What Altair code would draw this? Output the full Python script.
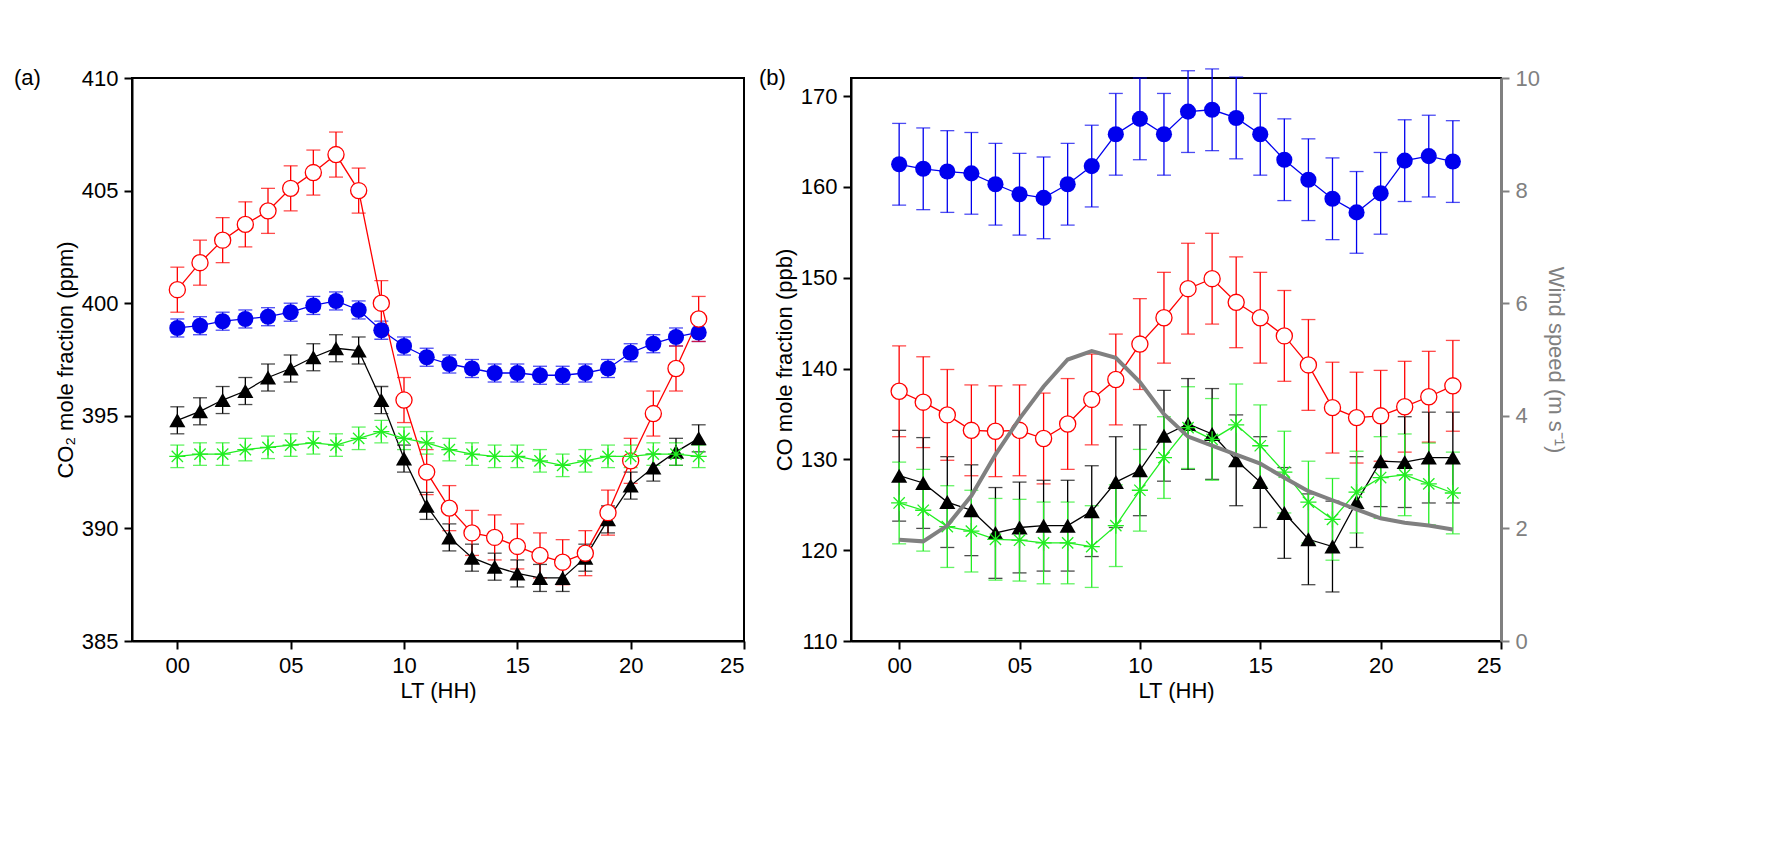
import pandas as pd
import altair as alt

hours = list(range(24))
seasons = ['spring', 'summer', 'autumn', 'winter']
colors = ['#0000ee', '#ff0000', '#000000', '#22ee22']

# (a) CO2, ppm
co2 = {
    'spring': [398.9, 399.0, 399.2, 399.3, 399.4, 399.6, 399.9, 400.1, 399.7, 398.8, 398.1, 397.6,
               397.3, 397.1, 396.9, 396.9, 396.8, 396.8, 396.9, 397.1, 397.8, 398.2, 398.5, 398.7],
    'summer': [400.6, 401.8, 402.8, 403.5, 404.1, 405.1, 405.8, 406.6, 405.0, 400.0, 395.7, 392.5,
               390.9, 389.8, 389.6, 389.2, 388.8, 388.5, 388.9, 390.7, 393.0, 395.1, 397.1, 399.3],
    'autumn': [394.8, 395.2, 395.7, 396.1, 396.7, 397.1, 397.6, 398.0, 397.9, 395.7, 393.1, 391.0,
               389.6, 388.7, 388.3, 388.0, 387.8, 387.8, 388.7, 390.4, 391.9, 392.7, 393.4, 394.0],
    'winter': [393.2, 393.3, 393.3, 393.5, 393.6, 393.7, 393.8, 393.7, 394.0, 394.3, 394.0, 393.8,
               393.5, 393.3, 393.2, 393.2, 393.0, 392.8, 393.0, 393.2, 393.2, 393.3, 393.3, 393.2],
}
co2_err = {'spring': 0.4, 'summer': 1.0, 'autumn': 0.6, 'winter': 0.5}

# (b) CO, ppb
co = {
    'spring': [162.5, 162.0, 161.7, 161.5, 160.3, 159.2, 158.8, 160.3, 162.3, 165.8, 167.5, 165.8,
               168.3, 168.5, 167.6, 165.8, 163.0, 160.8, 158.7, 157.2, 159.3, 162.9, 163.4, 162.8],
    'summer': [137.5, 136.3, 134.9, 133.2, 133.1, 133.2, 132.3, 133.9, 136.6, 138.8, 142.7, 145.6,
               148.8, 149.9, 147.3, 145.6, 143.6, 140.4, 135.7, 134.6, 134.8, 135.8, 136.9, 138.1],
    'autumn': [128.2, 127.4, 125.3, 124.4, 121.9, 122.5, 122.7, 122.7, 124.3, 127.5, 128.8, 132.6,
               133.9, 132.8, 129.9, 127.5, 124.1, 121.2, 120.4, 125.3, 129.8, 129.7, 130.2, 130.2],
    'winter': [125.2, 124.4, 122.6, 122.1, 121.2, 121.1, 120.8, 120.8, 120.4, 122.7, 126.6, 130.2,
               133.5, 132.2, 133.8, 131.5, 128.6, 125.3, 123.4, 126.4, 128.0, 128.3, 127.3, 126.3],
}
co_err = {'spring': 4.5, 'summer': 5.0, 'autumn': 5.0, 'winter': 4.5}

wind = [1.80, 1.77, 2.05, 2.58, 3.31, 3.95, 4.52, 5.00, 5.15, 5.03, 4.60, 4.03,
        3.63, 3.47, 3.31, 3.15, 2.90, 2.66, 2.50, 2.34, 2.18, 2.10, 2.05, 1.98]

FONT = 'Liberation Sans'


def frame(values, errs):
    rows = []
    for s in seasons:
        for h, v in zip(hours, values[s]):
            rows.append({'hour': h, 'season': s, 'v': v, 'lo': v - errs[s], 'hi': v + errs[s]})
    return pd.DataFrame(rows)


xaxis = alt.X('hour:Q', title='LT (HH)', scale=alt.Scale(domain=[-2, 25], nice=False),
              axis=alt.Axis(values=[0, 5, 10, 15, 20, 25], grid=False, tickSize=8,
                            labelExpr="datum.value < 10 ? '0' + datum.value : datum.value"))


def color(show):
    leg = alt.Legend(title=None, orient='none', legendX=345, legendY=-62,
                     direction='horizontal', strokeColor='black', padding=6,
                     labelFontSize=22, symbolSize=220, columnPadding=14) if show else None
    return alt.Color('season:N', scale=alt.Scale(domain=seasons, range=colors), legend=leg)


shape = alt.Shape('season:N', scale=alt.Scale(
    domain=seasons,
    range=['circle', 'circle', 'triangle-up',
           'M-1,0L1,0M0,-1L0,1M-0.7,-0.7L0.7,0.7M-0.7,0.7L0.7,-0.7']), legend=None)


def panel(df, lo, hi, title, width, show):
    base = alt.Chart(df)
    sc = alt.Scale(domain=[lo, hi], nice=False, zero=False)
    y = alt.Y('v:Q', title=title, scale=sc,
              axis=alt.Axis(grid=False, tickCount=5 if hi - lo < 30 else 6, tickSize=8))
    err = base.mark_errorbar(ticks=alt.MarkConfig(size=14), thickness=1.3).encode(
        x=xaxis, y=alt.Y('lo:Q', scale=sc, title=title), y2='hi:Q', color=color(False))
    line = base.mark_line(strokeWidth=1.3).encode(x=xaxis, y=y, color=color(show))
    filled = base.transform_filter("datum.season == 'spring' || datum.season == 'autumn'").mark_point(
        filled=True, size=260, opacity=1).encode(x=xaxis, y=y, color=color(False), shape=shape)
    opened = base.transform_filter("datum.season == 'summer' || datum.season == 'winter'").mark_point(
        filled=False, size=260, opacity=1, strokeWidth=1.3, fill='white').encode(
        x=xaxis, y=y, color=color(False), shape=shape)
    return alt.layer(err, line, filled, opened).properties(width=width, height=563)


a = panel(frame(co2, co2_err), 385, 410, 'CO₂ mole fraction (ppm)', 612, True)
a_lab = alt.Chart(pd.DataFrame({'t': ['(a)']})).mark_text(
    fontSize=22, font=FONT, align='left', baseline='middle').encode(
    text='t:N', x=alt.value(-118), y=alt.value(0))
a = alt.layer(a, a_lab)

b = panel(frame(co, co_err), 110, 172, 'CO mole fraction (ppb)', 650, False)
wind_df = pd.DataFrame({'hour': hours, 'wind': wind})
w = alt.Chart(wind_df).mark_line(color='#808080', strokeWidth=4).encode(
    x=xaxis,
    y=alt.Y('wind:Q', title='Wind speed (m s⁻¹)', scale=alt.Scale(domain=[0, 10], nice=False),
            axis=alt.Axis(orient='right', grid=False, values=[0, 2, 4, 6, 8, 10], tickSize=8,
                          labelColor='#808080', titleColor='#808080', domainColor='#808080',
                          tickColor='#808080', domainWidth=3)))
b_lab = alt.Chart(pd.DataFrame({'t': ['(b)']})).mark_text(
    fontSize=22, font=FONT, align='left', baseline='middle').encode(
    text='t:N', x=alt.value(-92), y=alt.value(0))
b = alt.layer(b, w, b_lab).resolve_scale(y='independent')

chart = alt.hconcat(a, b, spacing=12, padding={'left': 5, 'top': 58, 'right': 5, 'bottom': 5}
).configure_view(stroke='black', strokeWidth=2).configure_axis(
    labelFontSize=22, titleFontSize=22, labelFont=FONT, titleFont=FONT, titleFontWeight='normal',
    domainColor='black', domainWidth=2, tickColor='black', tickWidth=2, labelColor='black',
    titleColor='black', labelPadding=6
).configure_legend(labelFont=FONT)

chart.save('out.html', embed_options={'renderer': 'svg', 'actions': False})
